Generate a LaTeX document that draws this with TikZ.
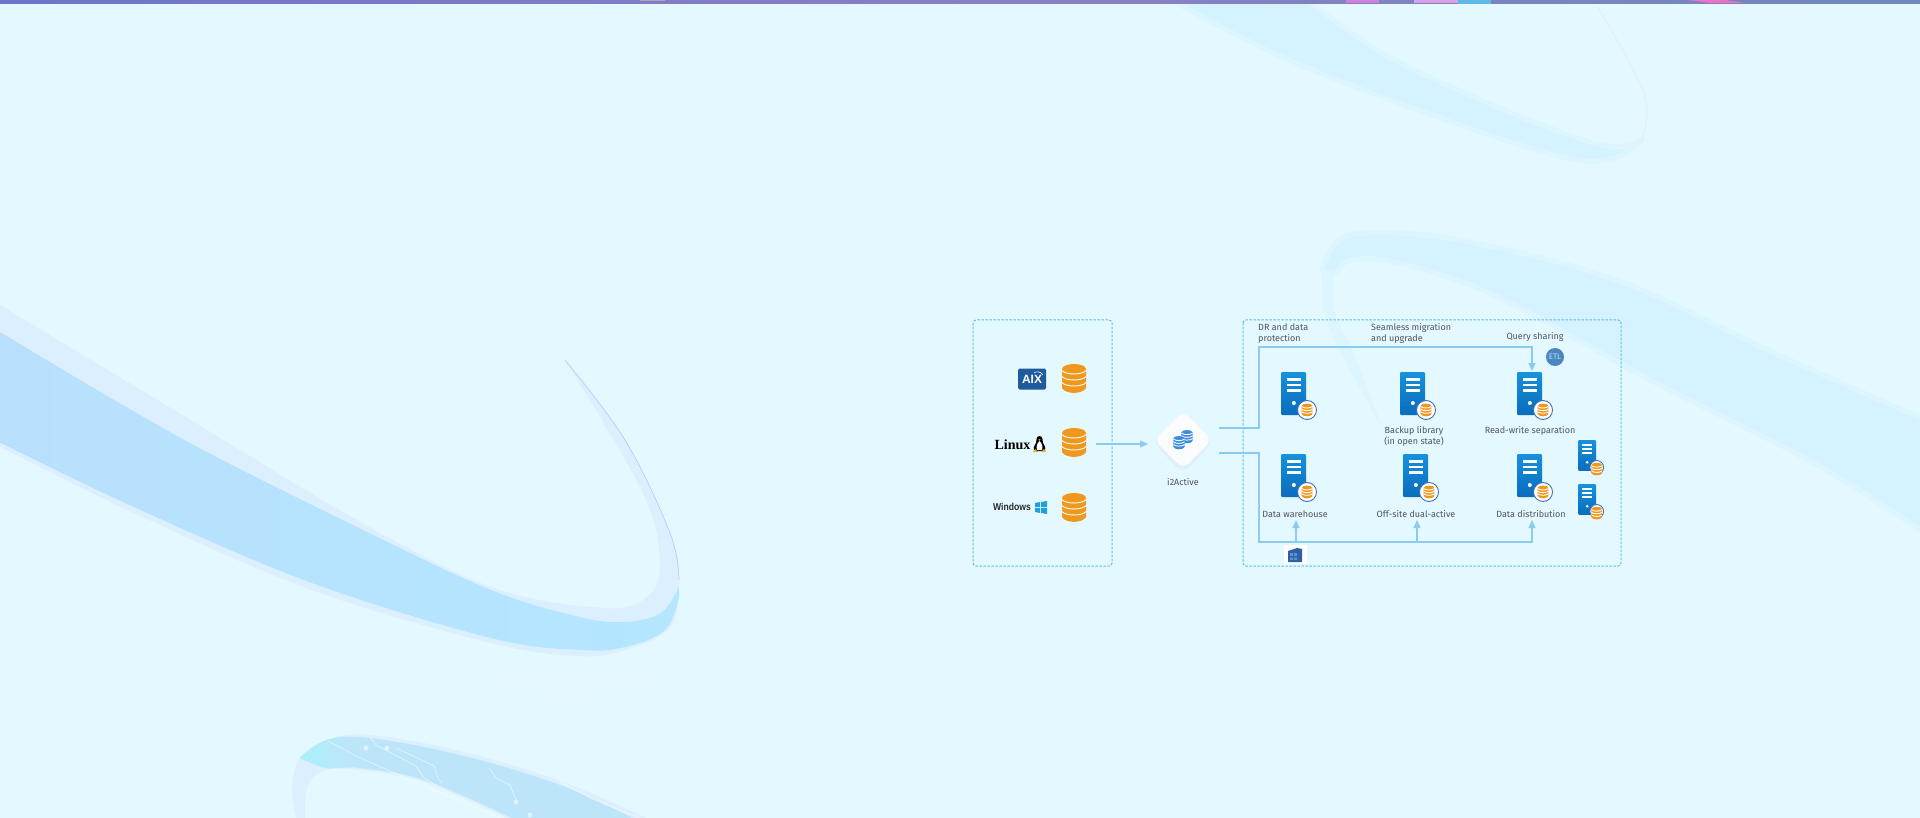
\documentclass[tikz,border=0pt]{standalone}
\usepackage{fontspec}
\setmainfont{Fira Sans}
\newfontfamily\serifbold{Liberation Serif}
\newfontfamily\arialfont{Liberation Sans}
\usetikzlibrary{arrows.meta,shapes.geometric}
\definecolor{bgc}{HTML}{E3F8FF}
\definecolor{bandlight}{HTML}{DCEFFF}
\definecolor{bandmain}{HTML}{B4E6FF}
\definecolor{bandmainb}{HTML}{B8E0FD}
\definecolor{bandfaint}{HTML}{D4F2FF}
\definecolor{bandedge}{HTML}{DCF5FF}
\definecolor{conn}{HTML}{8CCBF0}
\definecolor{dashc}{HTML}{62BEE8}
\definecolor{txt}{HTML}{50555C}
\definecolor{orangedb}{HTML}{F0981E}
\definecolor{srvtop}{HTML}{1592DE}
\definecolor{srvbot}{HTML}{0A6CBC}
\definecolor{badgeline}{HTML}{3F70C0}
\definecolor{stripa}{HTML}{6E74C6}
\definecolor{stripb}{HTML}{8A7FC6}
\definecolor{stripc}{HTML}{6F88BB}
\definecolor{spotpink}{HTML}{D07FE0}
\definecolor{spotlilac}{HTML}{D9A0E8}
\definecolor{spotblue}{HTML}{60B8E8}
\definecolor{spotrose}{HTML}{F070C8}
\definecolor{spottan}{HTML}{A8A8B0}
\definecolor{aixblue}{HTML}{1F5A9C}
\definecolor{winblue}{HTML}{1E9FE0}
\definecolor{tuxyellow}{HTML}{F2B01E}
\definecolor{winname}{HTML}{2A2A2A}
\definecolor{shadowc}{HTML}{D8E8F0}
\definecolor{diamondc}{HTML}{FBFCFD}
\definecolor{stackblue}{HTML}{3C8CDC}
\definecolor{etlfill}{HTML}{4A86C0}
\definecolor{etltext}{HTML}{BFE0F4}
\definecolor{bldblue}{HTML}{2C5FA8}
\definecolor{bldlight}{HTML}{5E90CC}
\definecolor{ribtip}{HTML}{A8F2FA}
\definecolor{ribbot}{HTML}{BDE5F9}
\tikzset{
  x=1pt,y=-1pt,
  lbl/.style={font=\fontsize{9}{11}\selectfont,text=txt,inner sep=0pt,align=center},
  lblleft/.style={lbl,align=left,anchor=west},
  dashbox/.style={draw=dashc,line width=1pt,dash pattern=on 2.5pt off 1.5pt,rounded corners=3pt},
  connline/.style={draw=conn,line width=1.3pt},
  connarrow/.style={connline,-{Triangle[length=8pt,width=7pt,fill=conn]}},
  pics/db/.style={code={
    \fill[#1] (0,5) ellipse [x radius=12pt,y radius=5pt];
    \fill[#1] (-12,5) -- (-12,24) .. controls (-8,30.5) and (8,30.5) .. (12,24) -- (12,5) -- cycle;
    \foreach \d in {6.6,12.6,18.6}{
      \draw[white,line width=.9pt] (-12,\d) .. controls (-8,\d+4.5) and (8,\d+4.5) .. (12,\d);
    }
  }},
  pics/server/.style={code={
    \shade[top color=srvtop,bottom color=srvbot,rounded corners=1.2pt] (0,0) rectangle (25,43);
    \foreach \d in {6,11.5,17}{\fill[white] (5.5,\d) rectangle (20,\d+2.8);}
    \fill[white] (12.8,31) circle (2pt);
    \draw[draw=badgeline,line width=.9pt,fill=white] (26,38) circle (9.5pt);
    \pic[scale=.44] at (26,31.6) {db=orangedb};
  }},
}
\begin{document}
\begin{tikzpicture}
\useasboundingbox (0,0) rectangle (1920,818);
\fill[bgc] (0,0) rectangle (1920,818);
\begin{scope}
\clip (0,0) rectangle (1920,818);
% left ribbon: pale outer band
\fill[bandlight] plot[smooth,tension=.6] coordinates {(-5,302) (179,413) (357,520) (491,587) (603,608) (647,597) (660,563) (643,493) (565,360)}
  -- plot[smooth,tension=.6] coordinates {(565,360) (625,440) (670,533) (679,580) (670,627) (625,650) (580,656) (491,643) (312,590) (134,513) (-5,444)} -- cycle;
% left ribbon: main band
\shade[left color=bandmainb,middle color=bandmain,right color=bandmain] plot[smooth,tension=.6] coordinates {(-5,329) (179,437) (357,527) (491,590) (580,617) (625,622) (661,613) (679,587)}
  -- plot[smooth,tension=.6] coordinates {(679,597) (665,630) (625,647) (580,650) (491,638) (312,583) (134,507) (-5,440)} -- cycle;
\draw[draw=blue!15!bandlight,line width=.7pt] plot[smooth,tension=.6] coordinates {(565,360) (625,440) (670,533) (679,580)};
\fill[white,opacity=.12] (575,685) ellipse [x radius=95pt,y radius=14pt];
% top-right ribbon
\filldraw[fill=bandfaint,draw=bandedge,line width=5pt,line join=round] plot[smooth,tension=.6] coordinates {(1175,2) (1289,60) (1438,117) (1563,157) (1613,158) (1642,140)}
  -- plot[smooth,tension=.6] coordinates {(1642,140) (1613,147) (1563,133) (1488,103) (1389,57) (1309,2)} -- cycle;
\draw[draw=bgc!96!magenta,line width=1pt] plot[smooth,tension=.6] coordinates {(1598,7) (1637,77) (1647,110) (1642,140)};
% right ribbon
\filldraw[fill=bandfaint,draw=bandedge,line width=5pt,line join=round] plot[smooth,tension=.6] coordinates {(1322,270) (1336,243) (1367,233) (1458,240) (1616,280) (1774,353) (1925,420)}
  -- plot[smooth,tension=.6] coordinates {(1925,533) (1814,463) (1656,383) (1498,297) (1399,263) (1351,260) (1334,273) (1322,270)} -- cycle;
\fill[bandedge] plot[smooth,tension=.6] coordinates {(1322,270) (1324,310) (1340,350) (1383,430)}
  -- plot[smooth,tension=.6] coordinates {(1383,430) (1355,357) (1334,310) (1334,273)} -- cycle;
% bottom ribbon
\fill[bandlight] plot[smooth,tension=.6] coordinates {(297,822) (292,788) (300,758) (327,740) (370,735) (460,751) (560,781) (655,822)} -- cycle;
\begin{scope}
\clip plot[smooth,tension=.6] coordinates {(300,758) (327,740) (370,738) (460,755) (560,785) (640,822)}
  -- plot[smooth,tension=.6] coordinates {(520,822) (427,781) (360,768) (327,768) (300,758)} -- cycle;
\fill[ribbot] (290,730) rectangle (660,822);
\shade[left color=ribtip,right color=ribbot] (298,730) rectangle (350,780);
\end{scope}
\fill[bgc] plot[smooth,tension=.6] coordinates {(305,822) (308,785) (327,770) (360,770) (427,783) (515,822)} -- cycle;
\draw[draw=white,opacity=.55,line width=.7pt,line join=round]
  (328,741) -- (358,757) -- (418,783) -- (500,818)
  (370,737) -- (376,745) -- (416,766) -- (424,778) -- (436,785)
  (396,748) -- (434,766) -- (438,778) -- (442,783)
  (489,768) -- (496,778) -- (510,785) -- (516,800)
  (560,782) -- (580,792) -- (590,798) -- (610,806) -- (640,818);
\fill[white,opacity=.55] (366,748) circle (2.5pt) (387,748) circle (2.5pt) (516,802) circle (2.5pt) (530,815) circle (2.5pt);
\end{scope}
% top strip
\shade[left color=stripa,right color=stripb] (0,0) rectangle (1000,4);
\shade[left color=stripb,right color=stripc] (1000,0) rectangle (1920,4);
\fill[spotpink] (1346,0) rectangle (1379,3);
\fill[spotlilac] (1414,0) rectangle (1458,3);
\fill[spotblue] (1458,0) rectangle (1491,4);
\fill[spotrose] (1687,0) -- (1725,0) -- (1745,3) -- (1710,3) -- cycle;
\fill[spottan] (640,0) rectangle (665,1.5);
% boxes
\draw[dashbox] (973,320) rectangle (1112,566);
\draw[dashbox] (1243,320) rectangle (1621,566);
% sources
\pic at (1074,364) {db=orangedb};
\pic at (1074,428) {db=orangedb};
\pic at (1074,493) {db=orangedb};
\node[fill=aixblue,rounded corners=1.5pt,minimum width=28pt,minimum height=21pt,inner sep=0pt,font=\arialfont\bfseries\fontsize{12}{12}\selectfont,text=white] (aix) at (1032,379) {AIX};
\draw[white,line width=.6pt] (1034,372.5) .. controls (1038,371) and (1041,372) .. (1043,375);
\node[inner sep=0pt,font=\serifbold\bfseries\fontsize{14}{14}\selectfont,text=black] (linux) at (1012.5,445) {Linux};
\fill[black] (1039.5,436) .. controls (1043,436) and (1042.5,441) .. (1043,443) .. controls (1045,446) and (1046,449) .. (1045,451) -- (1034,451) .. controls (1033,449) and (1034,446) .. (1036,443) .. controls (1036.5,441) and (1036,436) .. (1039.5,436) -- cycle;
\fill[white] (1039.5,441) .. controls (1042,443) and (1043,447) .. (1042,450) -- (1037,450) .. controls (1036,447) and (1037,443) .. (1039.5,441) -- cycle;
\fill[tuxyellow] (1033,452) -- (1035,449) -- (1038,452) -- cycle (1041,452) -- (1044,449) -- (1046,452) -- cycle (1038.5,439) -- (1040.5,439) -- (1039.5,441) -- cycle;
\node[inner sep=0pt,font=\arialfont\bfseries\fontsize{10}{10}\selectfont,text=winname,xscale=.86] (windows) at (1012,507) {Windows};
\fill[winblue] (1035,503) -- (1040,502) -- (1040,507) -- (1035,507) -- cycle
  (1041,502) -- (1047,501) -- (1047,507) -- (1041,507) -- cycle
  (1035,508) -- (1040,508) -- (1040,513) -- (1035,512) -- cycle
  (1041,508) -- (1047,508) -- (1047,514) -- (1041,513) -- cycle;
% i2Active
\fill[shadowc,opacity=.4,rounded corners=9pt] (1183,411) -- (1213,442) -- (1183,474) -- (1153,442) -- cycle;
\node[diamond,fill=diamondc,rounded corners=8pt,minimum width=58pt,minimum height=58pt,inner sep=0pt] (i2) at (1183,440) {};
\pic[scale=.46] at (1187,430) {db=stackblue};
\pic[scale=.46] at (1179,436) {db=stackblue};
\node[lbl] (i2lbl) at (1183,482) {i2Active};
% servers
\pic at (1281,372) {server};
\pic at (1400,372) {server};
\pic at (1517,372) {server};
\pic at (1281,454) {server};
\pic at (1403,454) {server};
\pic at (1517,454) {server};
\pic[scale=.72] at (1578,440) {server};
\pic[scale=.72] at (1578,484) {server};
% labels
\node[lblleft] (dr) at (1258,333.5) {DR and data\\protection};
\node[lblleft] (seam) at (1371,333.5) {Seamless migration\\and upgrade};
\node[lbl] (query) at (1535,337) {Query sharing};
\node[lbl] (backup) at (1414,436.5) {Backup library\\(in open state)};
\node[lbl] (rw) at (1530,431) {Read-write separation};
\node[lbl] (wh) at (1295,514) {Data warehouse};
\node[lbl] (off) at (1416,514) {Off-site dual-active};
\node[lbl] (dist) at (1531,514) {Data distribution};
% ETL
\node[circle,fill=etlfill,minimum size=18pt,inner sep=0pt,font=\fontsize{8}{8}\selectfont,text=etltext] (etl) at (1555,357) {ETL};
% building
\node[fill=white,minimum width=23pt,minimum height=19pt,inner sep=0pt] (bld) at (1295.5,554.5) {};
\fill[bldblue] (1288,551) -- (1297,548) -- (1302,549) -- (1302,562) -- (1288,562) -- cycle;
\fill[bldlight] (1290,553) rectangle (1293,556) (1294,553) rectangle (1297,556) (1290,557.5) rectangle (1293,560) (1294,557.5) rectangle (1297,560);
% connectors
\coordinate (srcout) at (1096,444);
\coordinate (i2in) at (1148,444);
\coordinate (i2a) at (1219,428);
\coordinate (i2b) at (1219,453);
\coordinate (topleft) at (1259,347);
\coordinate (topend) at (1532,371);
\coordinate (busleft) at (1259,542);
\coordinate (buswh) at (1296,542);
\coordinate (busoff) at (1417,542);
\coordinate (whend) at (1296,520);
\coordinate (offend) at (1417,520);
\coordinate (distend) at (1532,520);
\draw[connarrow] (i2a) -| (topleft) -| (topend);
\draw[connarrow] (i2b) -| (busleft) -| (distend);
\draw[connarrow] (srcout) -- (i2in);
\draw[connarrow] (buswh) -- (whend);
\draw[connarrow] (busoff) -- (offend);
\end{tikzpicture}
\end{document}
